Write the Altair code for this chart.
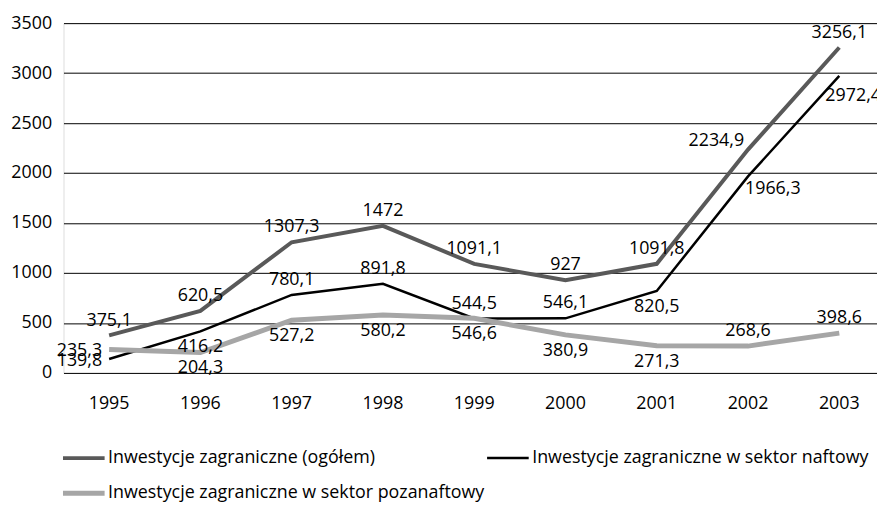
import altair as alt
import pandas as pd

years = ["1995", "1996", "1997", "1998", "1999", "2000", "2001", "2002", "2003"]
series_names = [
    "Inwestycje zagraniczne (ogółem)",
    "Inwestycje zagraniczne w sektor naftowy",
    "Inwestycje zagraniczne w sektor pozanaftowy",
]
total = [375.1, 620.5, 1307.3, 1472, 1091.1, 927, 1091.8, 2234.9, 3256.1]
oil = [139.8, 416.2, 780.1, 891.8, 544.5, 546.1, 820.5, 1966.3, 2972.4]
nonoil = [235.3, 204.3, 527.2, 580.2, 546.6, 380.9, 271.3, 268.6, 398.6]
labels_total = ["375,1", "620,5", "1307,3", "1472", "1091,1", "927", "1091,8", "2234,9", "3256,1"]
labels_oil = ["139,8", "416,2", "780,1", "891,8", "544,5", "546,1", "820,5", "1966,3", "2972,4"]
labels_nonoil = ["235,3", "204,3", "527,2", "580,2", "546,6", "380,9", "271,3", "268,6", "398,6"]

place_total = ["above"] * 7 + ["upleft", "above"]
place_oil = ["left", "below", "above", "above", "above", "above", "below", "downright", "belowright"]
place_nonoil = ["left", "below", "below", "below", "below", "below", "below", "above", "above"]

colors = ["#595959", "#000000", "#a6a6a6"]
widths = [4, 2.5, 5]

rows = []
for name, vals, labs, places in [
    (series_names[0], total, labels_total, place_total),
    (series_names[1], oil, labels_oil, place_oil),
    (series_names[2], nonoil, labels_nonoil, place_nonoil),
]:
    for y, v, l, p in zip(years, vals, labs, places):
        rows.append({"year": y, "value": v, "series": name, "label": l, "place": p})
df = pd.DataFrame(rows)

FONT = "'Open Sans', 'Noto Sans', sans-serif"

x = alt.X("year:N", sort=years, title=None,
          scale=alt.Scale(type="band", range=[0, 829], paddingInner=0, paddingOuter=0),
          axis=alt.Axis(labelAngle=0, ticks=False, domain=False, grid=False,
                        labelPadding=22, labelFontSize=18, labelFont=FONT, labelColor="#000"))
y = alt.Y("value:Q", title=None,
          scale=alt.Scale(domain=[0, 3500], nice=False),
          axis=alt.Axis(values=[0, 500, 1000, 1500, 2000, 2500, 3000, 3500], format="d",
                        ticks=False, domain=False,
                        gridColor="#000", gridWidth=1, gridOpacity=1,
                        labelPadding=12, labelFontSize=18, labelFont=FONT, labelColor="#000"))

base = alt.Chart(df)

lines = base.mark_line().encode(
    x=x, y=y,
    color=alt.Color("series:N", sort=series_names,
                    scale=alt.Scale(domain=series_names, range=colors),
                    legend=alt.Legend(title=None, orient="none", legendX=-3, legendY=416,
                                      direction="horizontal", columns=2,
                                      symbolType="stroke", symbolSize=1764,
                                      labelFontSize=18, labelFont=FONT, labelColor="#000",
                                      labelOffset=1, columnPadding=-34, rowPadding=3,
                                      labelLimit=500)),
    strokeWidth=alt.StrokeWidth("series:N", sort=series_names,
                                scale=alt.Scale(type="ordinal", domain=series_names, range=widths),
                                legend=None),
    detail="series:N",
)

offsets = {
    "above": (0, -15),
    "below": (0, 16),
    "left": (-30, 2),
    "upleft": (-32, -9),
    "downright": (25, 13),
    "belowright": (14, 20),
}
text_layers = []
for p, (dx, dy) in offsets.items():
    text_layers.append(
        base.transform_filter(alt.datum.place == p).mark_text(
            dx=dx, dy=dy, fontSize=18, font=FONT, color="#000", baseline="middle", align="center"
        ).encode(x=x, y=y, text="label:N")
    )

chart = alt.layer(lines, *text_layers).properties(
    width=821, height=353,
    padding={"left": 56, "top": 13, "right": 0, "bottom": 130},
    autosize=alt.AutoSizeParams(type="none"),
).configure_view(stroke=None).configure(background="white")

chart.save("out.html", embed_options={"renderer": "svg", "actions": False})
